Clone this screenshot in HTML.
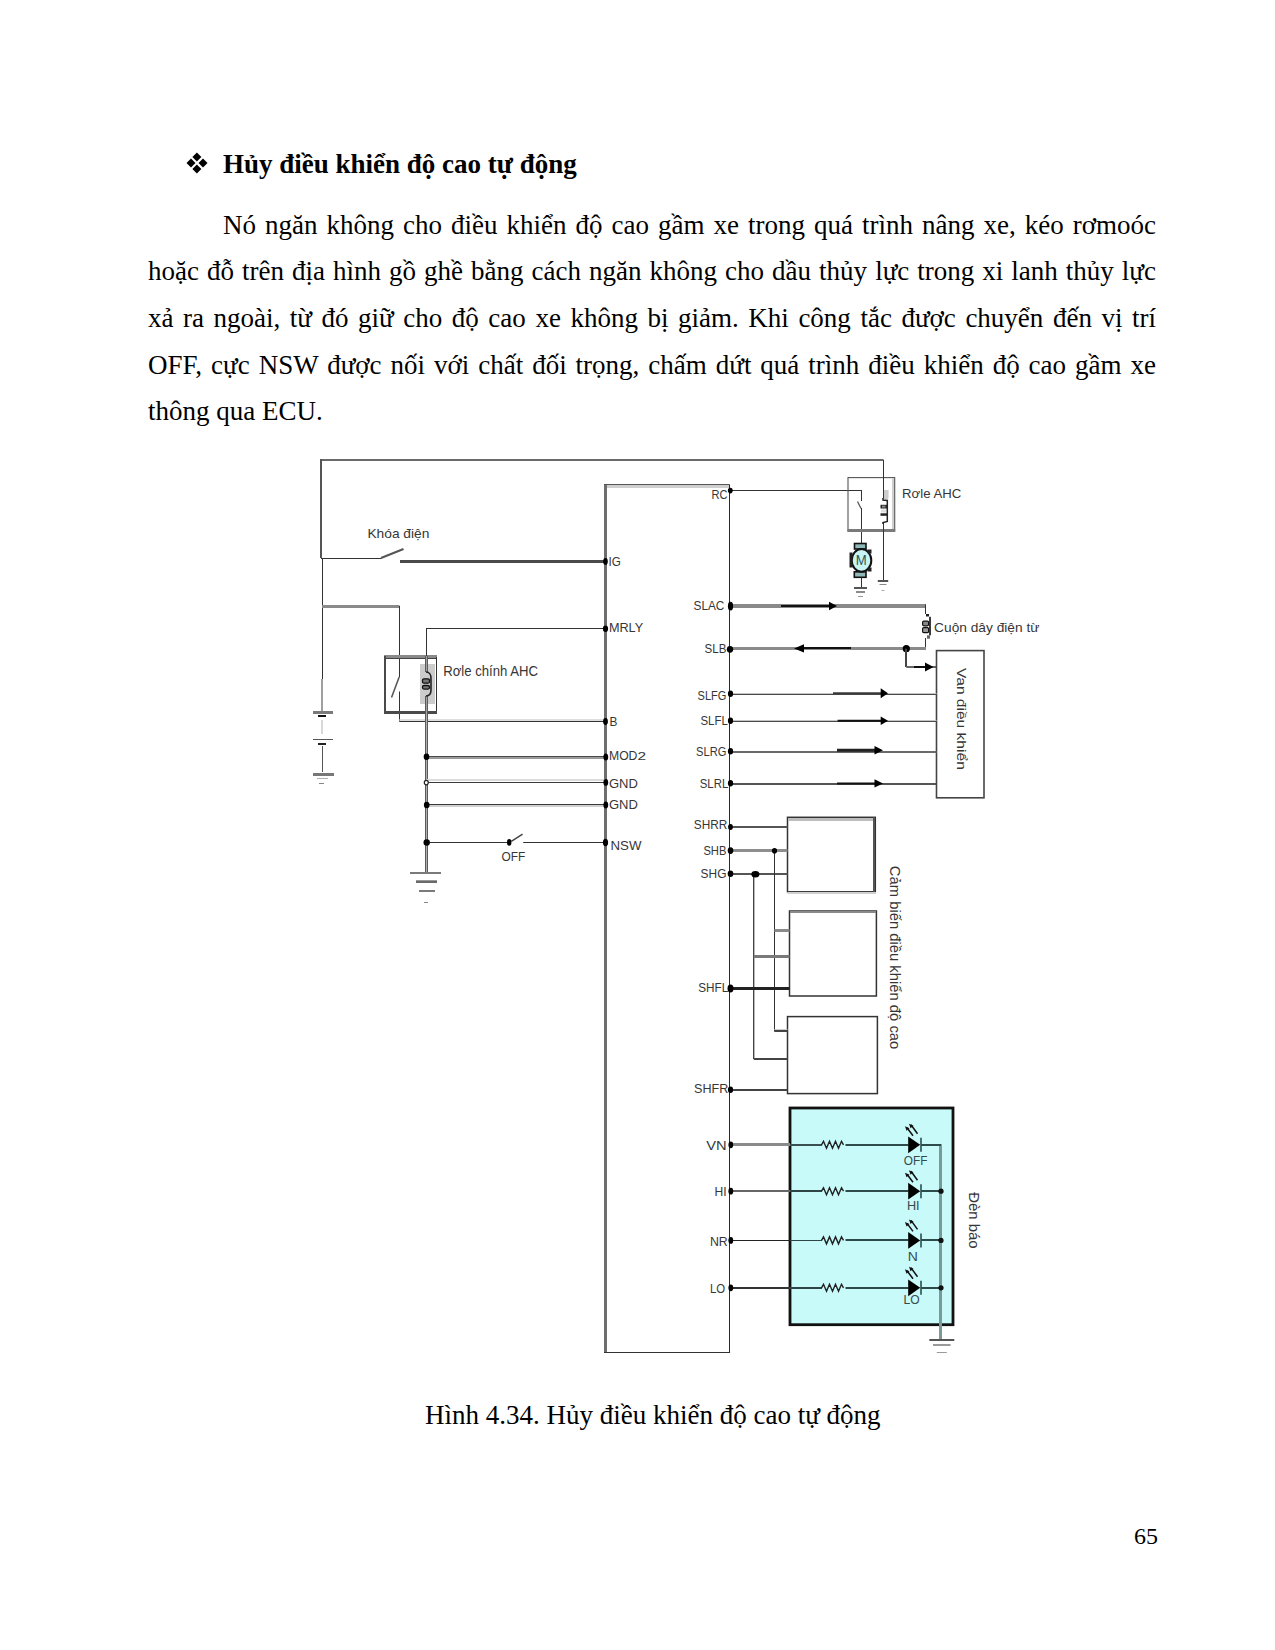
<!DOCTYPE html>
<html><head><meta charset="utf-8">
<style>
html,body{margin:0;padding:0;background:#fff;}
body{width:1275px;height:1650px;position:relative;overflow:hidden;font-family:"Liberation Serif",serif;color:#000;}
.t{position:absolute;white-space:nowrap;font-size:27px;line-height:27px;}
.j{position:absolute;left:148px;width:1008px;font-size:27px;line-height:27px;text-align:justify;text-align-last:justify;white-space:nowrap;}
.h{font-weight:bold;}
svg{position:absolute;left:0;top:0;}
</style></head><body>
<svg width="1275" height="1650" viewBox="0 0 1275 1650" style="font-family:'Liberation Sans',sans-serif"><line x1="605.5" y1="484.5" x2="605.5" y2="1352.3" stroke="#6e6e6e" stroke-width="3" />
<line x1="604.0" y1="484.5" x2="729.5" y2="484.5" stroke="#555" stroke-width="1" />
<line x1="607.0" y1="486.5" x2="729.5" y2="486.5" stroke="#cfcfcf" stroke-width="3" />
<line x1="729.5" y1="484.5" x2="729.5" y2="1352.3" stroke="#2a2a2a" stroke-width="1" />
<line x1="604.0" y1="1352.5" x2="730.1" y2="1352.5" stroke="#333" stroke-width="1" />
<line x1="320" y1="460" x2="883.5" y2="460" stroke="#6a6a6a" stroke-width="2" />
<line x1="321" y1="459" x2="321" y2="558" stroke="#555" stroke-width="2" />
<line x1="321" y1="558.5" x2="381.5" y2="558.5" stroke="#333" stroke-width="1" />
<line x1="381" y1="558" x2="403.5" y2="549" stroke="#555" stroke-width="2" />
<line x1="400" y1="561.5" x2="605.5" y2="561.5" stroke="#4a4a4a" stroke-width="3" />
<text x="367.4" y="538.3" font-size="13.0" fill="#363636" textLength="62.0" lengthAdjust="spacingAndGlyphs" >Khóa điện</text>
<line x1="322.5" y1="558" x2="322.5" y2="679" stroke="#333" stroke-width="1" />
<line x1="322" y1="679" x2="322" y2="711" stroke="#a0a0a0" stroke-width="2" />
<line x1="313" y1="712.5" x2="333" y2="712.5" stroke="#7a7a7a" stroke-width="3" />
<line x1="318" y1="716" x2="326" y2="716" stroke="#111" stroke-width="2" />
<line x1="322" y1="720" x2="322" y2="734" stroke="#d8d8d8" stroke-width="2" />
<line x1="313" y1="739.5" x2="333" y2="739.5" stroke="#555" stroke-width="1" />
<line x1="318" y1="744" x2="326" y2="744" stroke="#222" stroke-width="2" />
<line x1="322.5" y1="746" x2="322.5" y2="772" stroke="#555" stroke-width="1" />
<line x1="313" y1="774.5" x2="334" y2="774.5" stroke="#777" stroke-width="3" />
<line x1="317" y1="778.5" x2="328" y2="778.5" stroke="#b0b0b0" stroke-width="1" />
<line x1="319" y1="783.5" x2="324" y2="783.5" stroke="#888" stroke-width="1" />
<line x1="322" y1="606.5" x2="399.5" y2="606.5" stroke="#8a8a8a" stroke-width="3" />
<line x1="399.5" y1="606" x2="399.5" y2="677" stroke="#333" stroke-width="1" />
<line x1="399.2" y1="677" x2="391.5" y2="697.5" stroke="#555" stroke-width="1.5" />
<line x1="399.5" y1="691.5" x2="399.5" y2="721.5" stroke="#333" stroke-width="1" />
<line x1="399.5" y1="720" x2="605.5" y2="720" stroke="#dedede" stroke-width="2" />
<line x1="399.5" y1="721.5" x2="605.5" y2="721.5" stroke="#333" stroke-width="1" />
<rect x="420" y="664" width="15" height="40" fill="#cccccc"/>
<line x1="384" y1="656.5" x2="437" y2="656.5" stroke="#8a8a8a" stroke-width="3" />
<line x1="384" y1="658.5" x2="437" y2="658.5" stroke="#444" stroke-width="1" />
<line x1="385" y1="656" x2="385" y2="714" stroke="#4a4a4a" stroke-width="2" />
<line x1="436.5" y1="657" x2="436.5" y2="713" stroke="#333" stroke-width="1" />
<line x1="384" y1="712.5" x2="437" y2="712.5" stroke="#4a4a4a" stroke-width="3" />
<line x1="605.5" y1="628.5" x2="426" y2="628.5" stroke="#333" stroke-width="1" />
<line x1="426.5" y1="628" x2="426.5" y2="656" stroke="#333" stroke-width="1" />
<line x1="426.5" y1="656" x2="426.5" y2="872" stroke="#5a5a5a" stroke-width="3" />
<line x1="426.5" y1="656" x2="426.5" y2="872" stroke="#b0b0b0" stroke-width="1" />
<rect x="425" y="672" width="4" height="24" fill="#fff"/>
<rect x="420" y="664" width="15" height="40" fill="#cccccc"/>
<line x1="426.5" y1="656" x2="426.5" y2="672" stroke="#5a5a5a" stroke-width="3" />
<line x1="426.5" y1="656" x2="426.5" y2="672" stroke="#a0a0a0" stroke-width="1" />
<line x1="426.5" y1="696" x2="426.5" y2="714" stroke="#5a5a5a" stroke-width="3" />
<line x1="426.5" y1="696" x2="426.5" y2="714" stroke="#a0a0a0" stroke-width="1" />
<path d="M426,672 C431,672 431,676 431,679 L431,690 C431,694 430,696 426,696" stroke="#222" stroke-width="1.6" fill="none" />
<rect x="422.5" y="678.8" width="7" height="4.4" rx="1.5" fill="#777" stroke="#111" stroke-width="1.3"/>
<rect x="422.5" y="685.5" width="7" height="3.6" rx="1.5" fill="#777" stroke="#111" stroke-width="1.3"/>
<text x="443.2" y="676.3" font-size="15.5" fill="#363636" textLength="94.9" lengthAdjust="spacingAndGlyphs" >Rơle chính AHC</text>
<line x1="426.7" y1="756.5" x2="605.5" y2="756.5" stroke="#4a4a4a" stroke-width="1" />
<line x1="426.7" y1="758" x2="605.5" y2="758" stroke="#9a9a9a" stroke-width="2" />
<ellipse cx="426.5" cy="756.8" rx="2.8" ry="3.2" fill="#000"/>
<ellipse cx="605.8" cy="757" rx="2.4" ry="3.6" fill="#000"/>
<line x1="426.7" y1="780" x2="605.5" y2="780" stroke="#dcdcdc" stroke-width="2" />
<line x1="426.7" y1="782.5" x2="605.5" y2="782.5" stroke="#3a3a3a" stroke-width="1" />
<ellipse cx="426.3" cy="782.6" rx="2" ry="2.2" fill="#fff" stroke="#222" stroke-width="1.2"/>
<ellipse cx="605.8" cy="782.4" rx="2.4" ry="3.4" fill="#000"/>
<line x1="426.7" y1="804.5" x2="605.5" y2="804.5" stroke="#3a3a3a" stroke-width="1" />
<line x1="426.7" y1="806" x2="605.5" y2="806" stroke="#d0d0d0" stroke-width="2" />
<ellipse cx="426.7" cy="805" rx="2.8" ry="3.2" fill="#000"/>
<ellipse cx="605.8" cy="805" rx="2.4" ry="3.4" fill="#000"/>
<line x1="426.7" y1="842.5" x2="509.2" y2="842.5" stroke="#333" stroke-width="1" />
<line x1="511.3" y1="841.3" x2="522.6" y2="834.1" stroke="#444" stroke-width="1.5" />
<line x1="523.2" y1="842.5" x2="605.5" y2="842.5" stroke="#333" stroke-width="1" />
<circle cx="426.7" cy="842.5" r="3.2" fill="#000"/>
<ellipse cx="509.2" cy="842.4" rx="2.2" ry="3.3" fill="#000"/>
<ellipse cx="605.5" cy="842.5" rx="2.6" ry="3.8" fill="#000"/>
<text x="501.6" y="860.5" font-size="12.5" fill="#363636" textLength="23.8" lengthAdjust="spacingAndGlyphs" >OFF</text>
<line x1="410" y1="873" x2="441" y2="873" stroke="#7a7a7a" stroke-width="2" />
<line x1="416" y1="880.5" x2="437" y2="880.5" stroke="#9a9a9a" stroke-width="1" />
<line x1="416" y1="882" x2="437" y2="882" stroke="#6a6a6a" stroke-width="2" />
<line x1="419" y1="891" x2="435" y2="891" stroke="#7a7a7a" stroke-width="2" />
<line x1="424" y1="902.5" x2="428" y2="902.5" stroke="#888" stroke-width="1" />
<text x="608.6" y="565.5" font-size="12.5" fill="#363636" textLength="12.3" lengthAdjust="spacingAndGlyphs" >IG</text>
<text x="608.9" y="632.0" font-size="13.0" fill="#363636" textLength="34.3" lengthAdjust="spacingAndGlyphs" >MRLY</text>
<text x="609.5" y="726.2" font-size="13.0" fill="#363636" textLength="7.9" lengthAdjust="spacingAndGlyphs" >B</text>
<text x="609.0" y="760.3" font-size="12.0" fill="#363636" textLength="28.4" lengthAdjust="spacingAndGlyphs" >MOD</text>
<text x="637.6" y="760.3" font-size="10.0" fill="#363636" textLength="8.6" lengthAdjust="spacingAndGlyphs" >2</text>
<text x="609.0" y="788.0" font-size="13.0" fill="#363636" textLength="28.9" lengthAdjust="spacingAndGlyphs" >GND</text>
<text x="609.0" y="808.5" font-size="13.0" fill="#363636" textLength="28.9" lengthAdjust="spacingAndGlyphs" >GND</text>
<text x="610.5" y="849.7" font-size="13.5" fill="#363636" textLength="30.9" lengthAdjust="spacingAndGlyphs" >NSW</text>
<ellipse cx="605.5" cy="561.5" rx="2.3" ry="3.4" fill="#000"/>
<ellipse cx="605.5" cy="628.7" rx="2.6" ry="3.2" fill="#000"/>
<ellipse cx="605.5" cy="721.5" rx="2.4" ry="3.4" fill="#000"/>
<line x1="729.5" y1="490.5" x2="862" y2="490.5" stroke="#333" stroke-width="1" />
<line x1="861.5" y1="490" x2="861.5" y2="501" stroke="#333" stroke-width="1" />
<line x1="857.5" y1="501.5" x2="861" y2="508.5" stroke="#555" stroke-width="1.2" />
<line x1="861.5" y1="508" x2="861.5" y2="544" stroke="#333" stroke-width="1" />
<ellipse cx="730.3" cy="490.6" rx="2.4" ry="2.8" fill="#000"/>
<text x="711.4" y="499.1" font-size="13.5" fill="#363636" textLength="16.0" lengthAdjust="spacingAndGlyphs" >RC</text>
<rect x="884.6" y="490" width="4" height="29" fill="#cccccc"/>
<rect x="848" y="477.6" width="46.7" height="53.5" stroke="#555" stroke-width="1.1" fill="none" />
<line x1="893" y1="478" x2="893" y2="531" stroke="#cfcfcf" stroke-width="2" />
<line x1="847.5" y1="530.5" x2="895.2" y2="530.5" stroke="#7a7a7a" stroke-width="3" />
<line x1="883.5" y1="460" x2="883.5" y2="581" stroke="#333" stroke-width="1" />
<rect x="880" y="498.5" width="10" height="24" fill="#fff"/>
<rect x="884" y="490" width="4" height="9" fill="#cccccc"/>
<path d="M883,498 L883,500 L887.3,500.5 L887.3,521.5 L883,522.5 L883,524" stroke="#222" stroke-width="1.5" fill="none" />
<rect x="880.5" y="504.8" width="6.5" height="3.7" fill="#222"/>
<rect x="882" y="505.6" width="3.5" height="2" fill="#888"/>
<rect x="880.5" y="513.3" width="6.5" height="2.5" fill="#222"/>
<rect x="881" y="509.5" width="5" height="3" fill="#ddd"/>
<text x="902.1" y="497.5" font-size="13.5" fill="#363636" textLength="59.2" lengthAdjust="spacingAndGlyphs" >Rơle AHC</text>
<rect x="854.5" y="543.5" width="11.5" height="5.5" fill="#8fb8b8" stroke="#111" stroke-width="1.6"/>
<rect x="854.3" y="571.8" width="11.7" height="5.5" fill="#8fb8b8" stroke="#111" stroke-width="1.6"/>
<ellipse cx="861.5" cy="560.4" rx="9.8" ry="11.3" fill="#c8f4f4" stroke="#111" stroke-width="2"/>
<rect x="849.5" y="552.5" width="3" height="15" fill="#222"/>
<rect x="867.5" y="549.5" width="4" height="4" fill="#222"/>
<rect x="867.5" y="567.5" width="4" height="4" fill="#222"/>
<text x="861.3" y="565" font-size="14.5" fill="#2f5656" text-anchor="middle" textLength="11" lengthAdjust="spacingAndGlyphs">M</text>
<line x1="861.5" y1="577.3" x2="861.5" y2="588" stroke="#333" stroke-width="1" />
<line x1="854.0" y1="588" x2="867.0" y2="588" stroke="#555" stroke-width="2" />
<line x1="856.0" y1="592" x2="865.0" y2="592" stroke="#8a8a8a" stroke-width="2" />
<line x1="858.0" y1="596.5" x2="863.0" y2="596.5" stroke="#999" stroke-width="1" />
<line x1="877.8" y1="581" x2="888.2" y2="581" stroke="#555" stroke-width="2" />
<line x1="879.5" y1="584.5" x2="886.5" y2="584.5" stroke="#8a8a8a" stroke-width="1" />
<line x1="881.5" y1="590.5" x2="884.5" y2="590.5" stroke="#aaa" stroke-width="1" />
<line x1="729.5" y1="606" x2="926" y2="606" stroke="#8a8a8a" stroke-width="4" />
<line x1="781" y1="606" x2="830" y2="606" stroke="#111" stroke-width="2" />
<polygon points="829,601.8 837,606 829,610.2" fill="#000"/>
<ellipse cx="730.5" cy="606.2" rx="2.6" ry="4.4" fill="#000"/>
<line x1="925.5" y1="604.5" x2="925.5" y2="614" stroke="#333" stroke-width="1" />
<rect x="926" y="614" width="3" height="2.5" fill="#222"/>
<rect x="929" y="616.8" width="2" height="18.5" fill="#3a3a3a"/>
<rect x="922.6" y="621.2" width="6" height="4.6" rx="1.2" fill="#888" stroke="#111" stroke-width="1.2"/>
<rect x="922.6" y="627.6" width="6" height="5" rx="1.2" fill="#999" stroke="#111" stroke-width="1.2"/>
<rect x="927" y="635.3" width="3" height="3.4" fill="#666"/>
<line x1="925.5" y1="638" x2="925.5" y2="649" stroke="#333" stroke-width="1" />
<text x="693.5" y="610.4" font-size="12.5" fill="#363636" textLength="30.9" lengthAdjust="spacingAndGlyphs" >SLAC</text>
<text x="934.1" y="632.3" font-size="13.0" fill="#363636" textLength="105.3" lengthAdjust="spacingAndGlyphs" >Cuộn dây điện từ</text>
<line x1="729.5" y1="648.5" x2="926" y2="648.5" stroke="#8a8a8a" stroke-width="3" />
<line x1="804" y1="648" x2="851" y2="648" stroke="#111" stroke-width="2" />
<polygon points="804,644.1999999999999 794,648.4 804,652.6" fill="#000"/>
<ellipse cx="730" cy="649.3" rx="3.2" ry="3.4" fill="#000"/>
<circle cx="906.3" cy="648.7" r="3.6" fill="#000"/>
<line x1="906" y1="648.7" x2="906" y2="667" stroke="#444" stroke-width="2" />
<line x1="906.3" y1="667" x2="936.5" y2="667" stroke="#666" stroke-width="2" />
<line x1="914" y1="667" x2="926" y2="667" stroke="#111" stroke-width="2" />
<polygon points="925,662.4 933.5,667 925,671.6" fill="#000"/>
<text x="704.6" y="653.3" font-size="13.5" fill="#363636" textLength="21.8" lengthAdjust="spacingAndGlyphs" >SLB</text>
<rect x="936.5" y="650.6" width="47.5" height="147.2" stroke="#444" stroke-width="1.6" fill="#fff" />
<text x="0" y="0" font-size="13.5" fill="#363636" textLength="101.8" lengthAdjust="spacingAndGlyphs" transform="translate(957.2,668) rotate(90)">Van điều khiển</text>
<line x1="729.5" y1="693.5" x2="936.5" y2="693.5" stroke="#c4c4c4" stroke-width="1" />
<line x1="729.5" y1="694.5" x2="936.5" y2="694.5" stroke="#4a4a4a" stroke-width="1" />
<line x1="833" y1="693.2" x2="881.7" y2="693.2" stroke="#3a3a3a" stroke-width="2" />
<polygon points="880.7,688.2 888,693.2 880.7,698.2" fill="#000"/>
<ellipse cx="730.5" cy="693.8" rx="2.6" ry="3.2" fill="#000"/>
<text x="697.6" y="699.5" font-size="13.5" fill="#363636" textLength="28.8" lengthAdjust="spacingAndGlyphs" >SLFG</text>
<line x1="729.5" y1="720.5" x2="936.5" y2="720.5" stroke="#c4c4c4" stroke-width="1" />
<line x1="729.5" y1="721.5" x2="936.5" y2="721.5" stroke="#4a4a4a" stroke-width="1" />
<line x1="837.6" y1="720.7" x2="881.7" y2="720.7" stroke="#111" stroke-width="2" />
<polygon points="880.7,716.4000000000001 888,720.7 880.7,725.0" fill="#000"/>
<ellipse cx="730.5" cy="720.8" rx="2.6" ry="3.2" fill="#000"/>
<text x="700.5" y="725.3" font-size="13.5" fill="#363636" textLength="27.3" lengthAdjust="spacingAndGlyphs" >SLFL</text>
<line x1="729.5" y1="752" x2="936.5" y2="752" stroke="#6a6a6a" stroke-width="2" />
<line x1="837" y1="750.2" x2="875.5" y2="750.2" stroke="#222" stroke-width="3" />
<polygon points="874.5,746.0 883,750.2 874.5,754.4000000000001" fill="#000"/>
<ellipse cx="730.5" cy="751.2" rx="2.6" ry="3.2" fill="#000"/>
<text x="696.1" y="755.7" font-size="13.5" fill="#363636" textLength="30.3" lengthAdjust="spacingAndGlyphs" >SLRG</text>
<line x1="729.5" y1="784" x2="936.5" y2="784" stroke="#555" stroke-width="2" />
<line x1="837" y1="783.4" x2="875.5" y2="783.4" stroke="#111" stroke-width="2" />
<polygon points="874.5,779.1999999999999 883,783.4 874.5,787.6" fill="#000"/>
<ellipse cx="730.5" cy="783.2" rx="2.6" ry="3.2" fill="#000"/>
<text x="699.8" y="787.7" font-size="13.5" fill="#363636" textLength="28.4" lengthAdjust="spacingAndGlyphs" >SLRL</text>
<rect x="787.5" y="817.3" width="87.8" height="74.5" stroke="#333" stroke-width="1.5" fill="#fff" />
<line x1="788" y1="819.5" x2="875" y2="819.5" stroke="#bdbdbd" stroke-width="3" />
<line x1="874" y1="817.3" x2="874" y2="891.8" stroke="#555" stroke-width="2" />
<line x1="787.5" y1="893" x2="876" y2="893" stroke="#d0d0d0" stroke-width="2" />
<rect x="789.5" y="911" width="86.9" height="85" stroke="#333" stroke-width="1.5" fill="#fff" />
<line x1="790" y1="912" x2="876" y2="912" stroke="#8a8a8a" stroke-width="2" />
<rect x="787.5" y="1016.6" width="89.9" height="77" stroke="#333" stroke-width="1.5" fill="#fff" />
<line x1="729.5" y1="827" x2="787.5" y2="827" stroke="#555" stroke-width="2" />
<line x1="729.5" y1="850.5" x2="787.5" y2="850.5" stroke="#8e8e8e" stroke-width="3" />
<line x1="729.5" y1="874" x2="787.5" y2="874" stroke="#555" stroke-width="2" />
<line x1="774.5" y1="850.4" x2="774.5" y2="1031.4" stroke="#333" stroke-width="1" />
<line x1="774.4" y1="1031" x2="787.5" y2="1031" stroke="#444" stroke-width="2" />
<line x1="774.4" y1="1029.5" x2="787.5" y2="1029.5" stroke="#ccc" stroke-width="1" />
<line x1="774.4" y1="930.5" x2="789.5" y2="930.5" stroke="#8a8a8a" stroke-width="3" />
<line x1="754" y1="873" x2="754" y2="1059" stroke="#b8b8b8" stroke-width="2" />
<line x1="753.5" y1="873" x2="753.5" y2="1059" stroke="#444" stroke-width="1" />
<line x1="753.8" y1="1059" x2="787.5" y2="1059" stroke="#444" stroke-width="2" />
<line x1="753.8" y1="956.5" x2="789.5" y2="956.5" stroke="#7a7a7a" stroke-width="3" />
<line x1="729.5" y1="988.5" x2="789.5" y2="988.5" stroke="#222" stroke-width="3" />
<line x1="729.5" y1="1090" x2="787.5" y2="1090" stroke="#444" stroke-width="2" />
<ellipse cx="774.5" cy="850.8" rx="2.6" ry="2.8" fill="#000"/>
<ellipse cx="755.4" cy="874.2" rx="4" ry="3.2" fill="#000"/>
<ellipse cx="730.5" cy="827" rx="2.4" ry="3" fill="#000"/>
<ellipse cx="730.5" cy="850.6" rx="2.8" ry="3.4" fill="#000"/>
<ellipse cx="730.5" cy="873.7" rx="2.8" ry="3.2" fill="#000"/>
<ellipse cx="730.5" cy="988.6" rx="3" ry="4" fill="#000"/>
<ellipse cx="730.5" cy="1089.8" rx="2.6" ry="3.2" fill="#000"/>
<text x="693.8" y="829.1" font-size="13.5" fill="#363636" textLength="33.5" lengthAdjust="spacingAndGlyphs" >SHRR</text>
<text x="703.4" y="855.2" font-size="13.5" fill="#363636" textLength="23.0" lengthAdjust="spacingAndGlyphs" >SHB</text>
<text x="700.6" y="877.9" font-size="13.5" fill="#363636" textLength="25.8" lengthAdjust="spacingAndGlyphs" >SHG</text>
<text x="698.3" y="992.3" font-size="13.5" fill="#363636" textLength="30.0" lengthAdjust="spacingAndGlyphs" >SHFL</text>
<text x="694.1" y="1093.3" font-size="13.5" fill="#363636" textLength="34.2" lengthAdjust="spacingAndGlyphs" >SHFR</text>
<text x="0" y="0" font-size="14.2" fill="#363636" textLength="183.5" lengthAdjust="spacingAndGlyphs" transform="translate(889.6,865.8) rotate(90)">Cảm biến điều khiển độ cao</text>
<rect x="790" y="1108" width="163" height="216.7" stroke="#111" stroke-width="2.8" fill="#c8fafa" />
<line x1="940.5" y1="1144.2" x2="940.5" y2="1339.7" stroke="#7a9a9a" stroke-width="3" />
<line x1="729.5" y1="1144.5" x2="790" y2="1144.5" stroke="#8a8a8a" stroke-width="3" />
<line x1="790" y1="1145" x2="822" y2="1145" stroke="#3a5050" stroke-width="2" />
<path d="M821.5,1144.8 l2,-3.5 l3,7 l3,-7 l3,7 l3,-7 l3,7 l3,-7 l2,3.5" stroke="#222" stroke-width="1.4" fill="none" />
<line x1="845.5" y1="1145" x2="908.5" y2="1145" stroke="#2f4a4a" stroke-width="2" />
<polygon points="908.2,1136.3999999999999 920.2,1144.8 908.2,1153.2" fill="#000"/>
<line x1="921" y1="1137.8" x2="921" y2="1151.8" stroke="#4a7070" stroke-width="2" />
<line x1="921" y1="1145" x2="941" y2="1145" stroke="#2f4a4a" stroke-width="2" />
<path d="M917.5,1133.8 l-6.5,-9 M913,1135.8 l-6,-8" stroke="#111" stroke-width="1.5" fill="none" />
<polygon points="909,1123.8 913.5,1125.8 910.5,1128.3" fill="#111"/>
<polygon points="905,1126.3 909.5,1128.3 906.5,1130.8" fill="#111"/>
<ellipse cx="730.8" cy="1144.8" rx="2.4" ry="3.4" fill="#000"/>
<text x="706.3" y="1150.0" font-size="13.5" fill="#363636" textLength="20.4" lengthAdjust="spacingAndGlyphs" >VN</text>
<text x="903.8" y="1165.0" font-size="13.0" fill="#364a4a" textLength="23.6" lengthAdjust="spacingAndGlyphs" >OFF</text>
<line x1="729.5" y1="1191" x2="790" y2="1191" stroke="#666" stroke-width="2" />
<line x1="790" y1="1191" x2="822" y2="1191" stroke="#2f4545" stroke-width="2" />
<path d="M821.5,1191.2 l2,-3.5 l3,7 l3,-7 l3,7 l3,-7 l3,7 l3,-7 l2,3.5" stroke="#222" stroke-width="1.4" fill="none" />
<line x1="845.5" y1="1191" x2="908.5" y2="1191" stroke="#2f4a4a" stroke-width="2" />
<polygon points="908.2,1182.8 920.2,1191.2 908.2,1199.6000000000001" fill="#000"/>
<line x1="921" y1="1184.2" x2="921" y2="1198.2" stroke="#4a7070" stroke-width="2" />
<line x1="921" y1="1191" x2="941" y2="1191" stroke="#2f4a4a" stroke-width="2" />
<circle cx="941" cy="1191.2" r="2.6" fill="#111"/>
<path d="M917.5,1180.2 l-6.5,-9 M913,1182.2 l-6,-8" stroke="#111" stroke-width="1.5" fill="none" />
<polygon points="909,1170.2 913.5,1172.2 910.5,1174.7" fill="#111"/>
<polygon points="905,1172.7 909.5,1174.7 906.5,1177.2" fill="#111"/>
<ellipse cx="730.8" cy="1191.2" rx="2.4" ry="3.4" fill="#000"/>
<text x="714.6" y="1195.5" font-size="13.5" fill="#363636" textLength="12.1" lengthAdjust="spacingAndGlyphs" >HI</text>
<text x="906.9" y="1209.7" font-size="13.0" fill="#364a4a" textLength="12.7" lengthAdjust="spacingAndGlyphs" >HI</text>
<line x1="729.5" y1="1240.5" x2="790" y2="1240.5" stroke="#222" stroke-width="1" />
<line x1="790" y1="1240.5" x2="822" y2="1240.5" stroke="#2f4545" stroke-width="1" />
<path d="M821.5,1240.4 l2,-3.5 l3,7 l3,-7 l3,7 l3,-7 l3,7 l3,-7 l2,3.5" stroke="#222" stroke-width="1.4" fill="none" />
<line x1="845.5" y1="1240" x2="908.5" y2="1240" stroke="#2f4a4a" stroke-width="2" />
<polygon points="908.2,1232.0 920.2,1240.4 908.2,1248.8000000000002" fill="#000"/>
<line x1="921" y1="1233.4" x2="921" y2="1247.4" stroke="#4a7070" stroke-width="2" />
<line x1="921" y1="1240" x2="941" y2="1240" stroke="#2f4a4a" stroke-width="2" />
<circle cx="941" cy="1240.4" r="2.6" fill="#111"/>
<path d="M917.5,1229.4 l-6.5,-9 M913,1231.4 l-6,-8" stroke="#111" stroke-width="1.5" fill="none" />
<polygon points="909,1219.4 913.5,1221.4 910.5,1223.9" fill="#111"/>
<polygon points="905,1221.9 909.5,1223.9 906.5,1226.4" fill="#111"/>
<ellipse cx="730.8" cy="1240.4" rx="2.4" ry="3.4" fill="#000"/>
<text x="709.9" y="1246.4" font-size="13.5" fill="#363636" textLength="17.8" lengthAdjust="spacingAndGlyphs" >NR</text>
<text x="907.8" y="1260.7" font-size="13.0" fill="#364a4a" textLength="10.1" lengthAdjust="spacingAndGlyphs" >N</text>
<line x1="729.5" y1="1288" x2="790" y2="1288" stroke="#333" stroke-width="2" />
<line x1="790" y1="1288" x2="822" y2="1288" stroke="#2f4545" stroke-width="2" />
<path d="M821.5,1287.8 l2,-3.5 l3,7 l3,-7 l3,7 l3,-7 l3,7 l3,-7 l2,3.5" stroke="#222" stroke-width="1.4" fill="none" />
<line x1="845.5" y1="1288" x2="908.5" y2="1288" stroke="#2f4a4a" stroke-width="2" />
<polygon points="908.2,1279.3999999999999 920.2,1287.8 908.2,1296.2" fill="#000"/>
<line x1="921" y1="1280.8" x2="921" y2="1294.8" stroke="#4a7070" stroke-width="2" />
<line x1="921" y1="1288" x2="941" y2="1288" stroke="#2f4a4a" stroke-width="2" />
<circle cx="941" cy="1287.8" r="2.6" fill="#111"/>
<path d="M917.5,1276.8 l-6.5,-9 M913,1278.8 l-6,-8" stroke="#111" stroke-width="1.5" fill="none" />
<polygon points="909,1266.8 913.5,1268.8 910.5,1271.3" fill="#111"/>
<polygon points="905,1269.3 909.5,1271.3 906.5,1273.8" fill="#111"/>
<ellipse cx="730.8" cy="1287.8" rx="2.4" ry="3.4" fill="#000"/>
<text x="709.9" y="1292.7" font-size="13.5" fill="#363636" textLength="15.2" lengthAdjust="spacingAndGlyphs" >LO</text>
<text x="903.5" y="1303.5" font-size="13.0" fill="#364a4a" textLength="16.1" lengthAdjust="spacingAndGlyphs" >LO</text>
<line x1="929.3" y1="1340" x2="954.3" y2="1340" stroke="#555" stroke-width="2" />
<line x1="933.0" y1="1345" x2="950.5999999999999" y2="1345" stroke="#9a9a9a" stroke-width="2" />
<line x1="936.8" y1="1352.5" x2="946.8" y2="1352.5" stroke="#9a9a9a" stroke-width="1" />
<text x="0" y="0" font-size="14" fill="#363636" textLength="56.4" lengthAdjust="spacingAndGlyphs" transform="translate(969.3,1192.2) rotate(90)">Đèn báo</text></svg>
<svg width="1275" height="300" style="position:absolute;left:0;top:0"><path d="M196.9,152.4 L201.4,156.9 L196.9,161.4 L192.4,156.9 Z" fill="#000"/><path d="M191,158.5 L195.5,163 L191,167.5 L186.5,163 Z" fill="#000"/><path d="M203,158.5 L207.5,163 L203,167.5 L198.5,163 Z" fill="#000"/><path d="M196.9,164.5 L201.4,169 L196.9,173.5 L192.4,169 Z" fill="#000"/></svg>
<div class="t h" style="left:223px;top:151px;">Hủy điều khiển độ cao tự động</div>
<div class="j" style="left:223px;width:933px;top:211.5px;">Nó ngăn không cho điều khiển độ cao gầm xe trong quá trình nâng xe, kéo rơmoóc</div>
<div class="j" style="top:258px;">hoặc đỗ trên địa hình gồ ghề bằng cách ngăn không cho dầu thủy lực trong xi lanh thủy lực</div>
<div class="j" style="top:304.5px;">xả ra ngoài, từ đó giữ cho độ cao xe không bị giảm. Khi công tắc được chuyển đến vị trí</div>
<div class="j" style="top:351.5px;">OFF, cực NSW được nối với chất đối trọng, chấm dứt quá trình điều khiển độ cao gầm xe</div>
<div class="t" style="left:148px;top:397.5px;">thông qua ECU.</div>
<div class="t" style="left:425px;top:1402px;">Hình 4.34. Hủy điều khiển độ cao tự động</div>
<div class="t" style="left:1134px;top:1523px;font-size:24px;">65</div>
</body></html>
